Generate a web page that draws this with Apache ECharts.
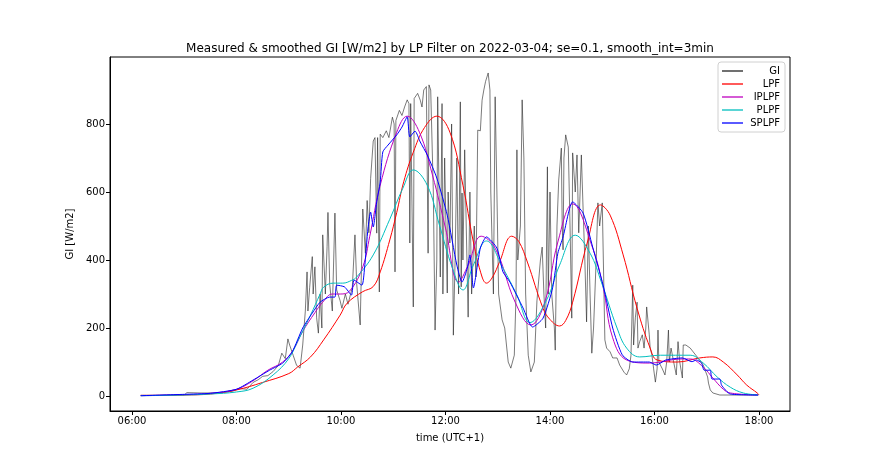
<!DOCTYPE html>
<html>
<head>
<meta charset="utf-8">
<script src="https://cdn.jsdelivr.net/npm/echarts@6/dist/echarts.min.js"></script>
<style>html,body{margin:0;padding:0;background:#fff}#c{width:876px;height:470px}</style>
</head>
<body>
<div id="c"></div>
<script>
// time in minutes since midnight (UTC+1), value in W/m2
const xTicks = [360, 480, 600, 720, 840, 960, 1080];
const yTicks = [0, 200, 400, 600, 800];

const GI = [[370,2],[392,2],[420,3],[423,10],[438,9],[461,9],[475,14],[484,22],[492,20],[499,40],[505,48],[510,58],[516,60],[522,72],[528,90],[532,126],[536,110],[539,168],[541,150],[545,120],[549,90],[553,82],[556,150],[559,250],[561,365],[562,250],[564,320],[567,410],[568,300],[570,380],[572,230],[574,185],[576,300],[578,200],[579,474],[582,300],[584,440],[585,540],[587,330],[590,250],[593,538],[595,312],[599,280],[601,258],[605,300],[608,270],[613,320],[616,474],[618,330],[622,209],[625,550],[628,420],[630,575],[632,480],[634,640],[637,750],[639,760],[641,479],[642,760],[644,306],[645,770],[648,760],[652,780],[655,760],[659,820],[661,800],[662,365],[663,810],[667,840],[670,825],[673,850],[676,871],[678,860],[679,450],[680,860],[683,262],[684,875],[686,880],[688,890],[691,870],[693,850],[695,900],[698,910],[700,420],[701,915],[703,900],[706,600],[708,194],[710,400],[711,880],[714,350],[716,860],[717,300],[719,700],[722,303],[723,600],[725,450],[727,800],[729,179],[731,400],[733,700],[735,300],[737,865],[738,321],[739,597],[740,400],[742,724],[745,350],[746,232],[748,600],[750,300],[753,500],[755,350],[757,782],[760,780],[762,870],[764,900],[766,925],[769,950],[771,900],[772,600],[775,300],[777,880],[779,600],[781,300],[785,224],[788,200],[792,100],[795,82],[799,120],[801,300],[802,724],[803,400],[806,500],[808,871],[810,700],[812,300],[815,120],[818,71],[822,100],[825,280],[829,400],[831,438],[833,300],[835,200],[837,674],[838,300],[840,600],[842,300],[845,200],[846,135],[848,500],[850,635],[853,729],[854,500],[855,430],[856,700],[858,768],[861,732],[863,500],[865,229],[866,715],[869,600],[871,709],[873,480],[876,709],[878,550],[880,400],[882,218],[884,500],[886,300],[888,126],[890,200],[893,400],[895,568],[897,500],[900,568],[902,300],[903,165],[905,141],[909,130],[912,112],[917,112],[920,91],[925,70],[928,62],[931,80],[933,120],[935,326],[936,150],[938,230],[940,276],[941,141],[943,160],[946,180],[948,141],[950,200],[951,262],[954,180],[955,141],[957,121],[959,80],[961,41],[963,80],[964,194],[965,100],[969,80],[972,62],[974,100],[976,194],[977,100],[979,141],[982,100],[985,62],[987,160],[989,100],[992,53],[993,150],[996,150],[1001,141],[1009,115],[1016,91],[1021,56],[1022,38],[1024,18],[1027,9],[1035,3],[1079,3]];

const LPF = [[370,2],[390,2],[420,3],[450,6],[480,18],[510,40],[540,66],[550,85],[565,115],[580,165],[599,238],[607,273],[625,307],[637,322],[645,365],[656,459],[664,540],[672,630],[683,717],[696,790],[710,823],[725,776],[740,620],[752,453],[762,350],[767,332],[774,350],[782,394],[796,470],[804,455],[814,394],[832,258],[840,225],[851,206],[858,222],[866,276],[883,453],[898,562],[909,532],[924,415],[940,258],[955,141],[963,106],[986,100],[1012,112],[1027,115],[1039,100],[1055,62],[1066,32],[1078,9],[1080,3]];

const IPLPF = [[370,1],[420,4],[450,8],[480,20],[499,45],[516,76],[533,100],[545,135],[556,190],[570,245],[579,276],[590,300],[599,300],[610,309],[625,380],[633,470],[645,620],[664,776],[676,823],[690,776],[705,650],[720,494],[735,335],[746,385],[761,470],[777,435],[800,276],[818,209],[834,276],[849,453],[866,565],[889,435],[901,320],[912,171],[928,106],[954,97],[992,109],[1001,109],[1016,85],[1027,53],[1039,20],[1047,9],[1079,3]];

const PLPF = [[370,1],[420,3],[450,6],[480,12],[499,23],[522,62],[540,110],[550,160],[565,238],[576,300],[580,320],[591,332],[602,332],[612,340],[618,350],[637,415],[656,520],[671,611],[683,665],[699,620],[713,503],[728,376],[740,312],[752,385],[767,456],[786,376],[802,297],[817,216],[836,282],[851,385],[869,473],[886,420],[899,335],[917,200],[928,141],[943,115],[967,120],[1001,120],[1016,97],[1032,56],[1047,26],[1062,9],[1079,3]];

const SPLPF = [[370,1],[420,5],[450,8],[480,20],[499,47],[518,76],[533,97],[544,130],[556,200],[567,244],[576,276],[587,291],[593,291],[595,326],[604,321],[612,297],[615,341],[624,326],[627,376],[631,494],[634,541],[637,497],[641,571],[645,629],[648,718],[654,738],[664,768],[670,791],[676,821],[679,762],[685,779],[691,747],[699,709],[710,641],[722,532],[733,385],[739,335],[745,376],[748,415],[752,318],[760,435],[767,468],[779,435],[786,365],[794,335],[809,259],[820,203],[832,229],[843,318],[849,420],[855,468],[866,571],[878,538],[889,438],[901,326],[912,200],[923,121],[935,100],[954,100],[962,91],[973,106],[992,112],[1003,101],[1008,106],[1014,97],[1017,76],[1024,76],[1026,50],[1035,50],[1037,32],[1047,6],[1079,3]];

const FONT = 'DejaVu Sans';
const pad = n => (n < 10 ? '0' : '') + n;
const fmtTime = v => pad(Math.floor(v / 60)) + ':' + pad(Math.round(v % 60));

const chart = echarts.init(document.getElementById('c'), null, {renderer: 'canvas'});
const mk = (name, data, color, width, smooth) => ({
  name, type: 'line', data, symbol: 'none', showSymbol: false,
  smooth: smooth,
  lineStyle: {color, width}, itemStyle: {color}, animation: false
});
chart.setOption({
  animation: false,
  textStyle: {fontFamily: FONT},
  title: {
    text: 'Measured & smoothed GI [W/m2] by LP Filter on 2022-03-04; se=0.1, smooth_int=3min',
    left: 445, top: 38, textAlign: 'center',
    textStyle: {fontFamily: FONT, fontSize: 12, fontWeight: 'normal', color: '#000'}
  },
  grid: {left: 110, right: 86, top: 57, bottom: 59, show: true, borderColor: '#000', borderWidth: 1, backgroundColor: 'transparent'},
  legend: {
    orient: 'vertical', right: 91, top: 62,
    icon: 'rect', itemWidth: 21, itemHeight: 1.3, itemGap: 3,
    padding: [4, 5, 4, 4],
    backgroundColor: '#fff', borderColor: '#d0d0d0', borderWidth: 1, borderRadius: 3,
    formatter: n => '{a|' + n + '}',
    textStyle: {fontFamily: FONT, fontSize: 10, color: '#000',
      rich: {a: {fontFamily: FONT, fontSize: 10, color: '#000', width: 32, align: 'right', lineHeight: 12}}},
    data: ['GI', 'LPF', 'IPLPF', 'PLPF', 'SPLPF']
  },
  xAxis: {
    type: 'value', min: 334.7, max: 1115.6,
    name: 'time (UTC+1)', nameLocation: 'middle', nameGap: 22,
    nameTextStyle: {fontFamily: FONT, fontSize: 10, color: '#000'},
    axisLine: {show: true, onZero: false, lineStyle: {color: '#000', width: 1}},
    axisTick: {show: true, length: 4, lineStyle: {color: '#000'}, customValues: xTicks},
    axisLabel: {fontFamily: FONT, fontSize: 10, color: '#000', margin: 5, customValues: xTicks, formatter: fmtTime},
    splitLine: {show: false}
  },
  yAxis: {
    type: 'value', min: -44, max: 997,
    name: 'GI [W/m2]', nameLocation: 'middle', nameGap: 31,
    nameTextStyle: {fontFamily: FONT, fontSize: 10, color: '#000'},
    axisLine: {show: true, onZero: false, lineStyle: {color: '#000', width: 1}},
    axisTick: {show: true, length: 4, lineStyle: {color: '#000'}, customValues: yTicks},
    axisLabel: {fontFamily: FONT, fontSize: 10, color: '#000', margin: 5, customValues: yTicks},
    splitLine: {show: false}
  },
  series: [
    mk('GI', GI, '#222', 0.6, false),
    mk('LPF', LPF, '#ff0000', 1, 0.4),
    mk('IPLPF', IPLPF, '#bf00bf', 1, 0.4),
    mk('PLPF', PLPF, '#00bfbf', 1, 0.4),
    mk('SPLPF', SPLPF, '#0000ff', 1, 0.2)
  ]
});
</script>
</body>
</html>
